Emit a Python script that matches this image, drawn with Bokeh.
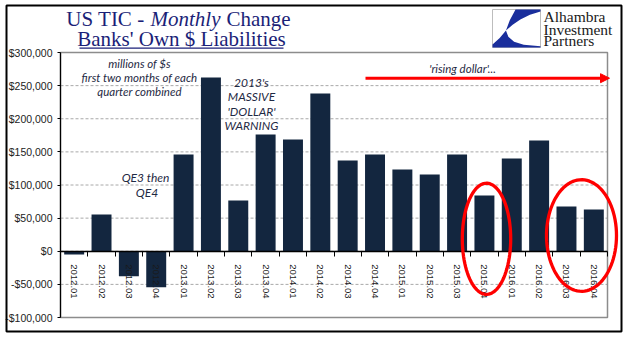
import numpy as np
from bokeh.plotting import figure
from bokeh.models import (Range1d, FixedTicker, Label, Arrow, NormalHead,
                          PolyAnnotation, BoxAnnotation)
from bokeh.embed import file_html
from bokeh.resources import INLINE

# ---------------- data ----------------
quarters = ["2012.01", "2012.02", "2012.03", "2012.04",
            "2013.01", "2013.02", "2013.03", "2013.04",
            "2014.01", "2014.02", "2014.03", "2014.04",
            "2015.01", "2015.02", "2015.03", "2015.04",
            "2016.01", "2016.02", "2016.03", "2016.04"]
changes = [-5000, 55500, -37600, -54200,
           146000, 262300, 76600, 176200,
           168700, 238100, 137000, 146000,
           123400, 115800, 146000, 84200,
           140000, 167200, 67500, 63000]
y_ticks = [-100000, -50000, 0, 50000, 100000, 150000, 200000, 250000, 300000]
y_tick_labels = ["-$100,000", "-$50,000", "$0", "$50,000", "$100,000",
                 "$150,000", "$200,000", "$250,000", "$300,000"]

# ---------------- layout ----------------
W, H = 641, 341
FL, FR, FT, FB = 60, 607, 52, 317  # plot-area edges in canvas pixels
XMIN, XMAX = -0.5, len(quarters) - 0.5
YMIN, YMAX = -100000, 300000


def dx(px):
    return XMIN + (px - FL) / (FR - FL) * (XMAX - XMIN)


def dy(py):
    return YMAX - (py - FT) / (FB - FT) * (YMAX - YMIN)


NAVY = "#1B1F78"
BAR = "#13263F"
NOTE = "#1F2A44"
RED = "#FF0000"

# the frame fills the whole canvas; the plot area is drawn inside it
p = figure(width=W, height=H, output_backend="svg", toolbar_location=None,
           x_range=Range1d(dx(0), dx(W)), y_range=Range1d(dy(H), dy(0)),
           min_border=0)
p.background_fill_color = "white"
p.border_fill_color = "white"
p.outline_line_color = None
p.grid.visible = False

# dashed grid lines (plot area only)
grid = p.segment(x0=XMIN, x1=XMAX, y0=y_ticks, y1=y_ticks,
                 line_color="#A8A8A8", line_dash="3 2", line_width=1)
grid.level = "underlay"

# plot-area border
p.add_layout(BoxAnnotation(left=XMIN, right=XMAX, bottom=YMIN, top=YMAX,
                           fill_alpha=0, line_color="#8C8C8C", line_alpha=1,
                           line_width=1.5, level="underlay"))

xs = list(range(len(quarters)))
p.vbar(x=xs, top=changes, bottom=0, width=0.73, fill_color=BAR, line_color=None)

# y axis
p.yaxis.fixed_location = XMIN
p.yaxis.bounds = (YMIN, YMAX)
p.yaxis.ticker = FixedTicker(ticks=y_ticks)
p.yaxis.major_label_overrides = {t: l for t, l in zip(y_ticks, y_tick_labels)}
p.yaxis.major_label_text_font = "Liberation Sans"
p.yaxis.major_label_text_font_size = "10.5px"
p.yaxis.major_label_text_color = "#222222"
p.yaxis.axis_line_color = "black"
p.yaxis.axis_line_width = 1.2
p.yaxis.major_tick_out = 3
p.yaxis.major_tick_in = 0
p.yaxis.minor_tick_line_color = None
p.yaxis.major_label_standoff = 5

# x axis at zero
p.xaxis.fixed_location = 0
p.xaxis.bounds = (XMIN, XMAX)
p.xaxis.ticker = FixedTicker(ticks=xs, minor_ticks=[i - 0.5 for i in range(len(quarters) + 1)])
p.xaxis.major_label_overrides = {i: q for i, q in enumerate(quarters)}
p.xaxis.major_label_orientation = "vertical"
p.xaxis.major_label_text_font = "Liberation Sans"
p.xaxis.major_label_text_font_size = "9.5px"
p.xaxis.major_label_text_color = "#1A1A1A"
p.xaxis.major_tick_out = 0
p.xaxis.major_tick_in = 0
p.xaxis.minor_tick_out = 5
p.xaxis.minor_tick_in = 0
p.xaxis.minor_tick_line_color = "black"
p.xaxis.minor_tick_line_width = 1
p.xaxis.axis_line_color = "black"
p.xaxis.axis_line_width = 1.5
p.xaxis.major_label_standoff = 8

# ---------------- annotations ----------------
# outer frame
p.add_layout(BoxAnnotation(left=dx(6), right=dx(621), top=dy(5), bottom=dy(331),
                           fill_alpha=0, line_color="black", line_alpha=1, line_width=2))

# title
TF = "Liberation Serif"
p.add_layout(Label(x=dx(144), y=dy(18.3), text="US TIC -", text_font=TF,
                   text_font_size="21px", text_color=NAVY, text_baseline="middle",
                   text_align="right"))
p.add_layout(Label(x=dx(150), y=dy(18.3), text="Monthly", text_font=TF,
                   text_font_style="italic", text_font_size="21px", text_color=NAVY,
                   text_baseline="middle"))
p.add_layout(Label(x=dx(226), y=dy(18.3), text="Change", text_font=TF,
                   text_font_size="21px", text_color=NAVY, text_baseline="middle"))
p.add_layout(Label(x=dx(181), y=dy(38.3), text="Banks' Own $ Liabilities", text_font=TF,
                   text_font_size="21px", text_color=NAVY, text_baseline="middle",
                   text_align="center"))
p.add_layout(Arrow(x_start=dx(79), y_start=dy(47.7), x_end=dx(283), y_end=dy(47.7),
                   line_color=NAVY, line_width=1.3, end=None))

# logo
LX0, LX1, LY0, LY1 = 492, 540, 9, 47
p.add_layout(PolyAnnotation(xs=[dx(LX0), dx(LX1), dx(LX1), dx(LX0)],
                            ys=[dy(LY0), dy(LY0), dy(LY1), dy(LY1)],
                            fill_color="white", fill_alpha=1,
                            line_color="#BDBDBD", line_alpha=1, line_width=1))
logo_shapes = [
    ([0.48, 1.00, 1.00, 0.78, 0.58, 0.42, 0.28, 0.36],
     [0.00, 0.00, 0.05, 0.14, 0.26, 0.40, 0.55, 0.28]),
    ([0.28, 0.33, 0.45, 0.65, 1.00, 1.00, 0.00, 0.00, 0.15],
     [0.55, 0.72, 0.85, 0.93, 0.97, 1.00, 1.00, 0.92, 0.75]),
]
for su, sv in logo_shapes:
    p.add_layout(PolyAnnotation(xs=[dx(LX0 + u * (LX1 - LX0)) for u in su],
                                ys=[dy(LY0 + v * (LY1 - LY0)) for v in sv],
                                fill_color="#1A2E9C", fill_alpha=1, line_color=None))
for txt, mid in [("Alhambra", 16.3), ("Investment", 28.6), ("Partners", 40.2)]:
    p.add_layout(Label(x=dx(543), y=dy(mid), text=txt, text_font=TF,
                       text_font_size="15.5px", text_color="#1A1A1A",
                       text_baseline="middle"))

# notes
p.add_layout(Label(x=dx(139), y=dy(77), text="millions of $s\nfirst two months of each\nquarter combined",
                   text_font="Lato", text_font_style="italic", text_font_size="11.5px",
                   text_color=NOTE, text_align="center", text_baseline="middle",
                   text_line_height=1.04))
p.add_layout(Label(x=dx(251), y=dy(103.5), text="2013's\nMASSIVE\n'DOLLAR'\nWARNING",
                   text_font="Lato", text_font_style="italic", text_font_size="12px",
                   text_color=NOTE, text_align="center", text_baseline="middle",
                   text_line_height=0.97))
p.add_layout(Label(x=dx(146.5), y=dy(184.5), text="QE3  then\nQE4",
                   text_font="Lato", text_font_style="italic", text_font_size="12px",
                   text_color=NOTE, text_align="center", text_baseline="middle",
                   text_line_height=0.94))
p.add_layout(Label(x=dx(462), y=dy(68), text="'rising dollar'...",
                   text_font="Lato", text_font_style="italic", text_font_size="11.5px",
                   text_color=NOTE, text_align="center", text_baseline="middle"))

# red arrow
p.add_layout(Arrow(x_start=dx(365), y_start=dy(77.7), x_end=dx(609), y_end=dy(77.7),
                   line_color=RED, line_width=3,
                   end=NormalHead(size=9, fill_color=RED, line_color=RED)))

# red ellipses around the weak quarters
t = np.linspace(0, 2 * np.pi, 90)
for cx, cy, rw, rh in [(486, 238.3, 24.2, 55.6), (581, 235, 35, 55.8)]:
    p.add_layout(PolyAnnotation(xs=[dx(cx + rw * np.cos(a)) for a in t],
                                ys=[dy(cy + rh * np.sin(a)) for a in t],
                                fill_alpha=0, line_color=RED, line_alpha=1,
                                line_width=3.3))

open("out.html", "w").write(file_html(p, INLINE))
